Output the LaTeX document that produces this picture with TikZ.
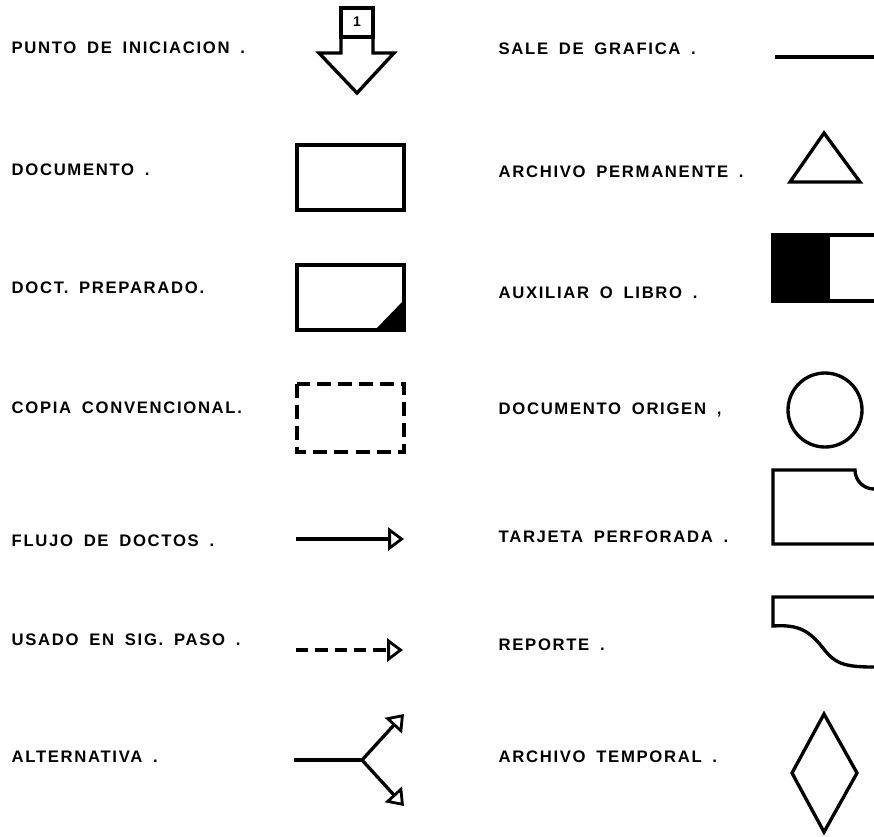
\documentclass[tikz,border=0pt]{standalone}
\usepackage{fontspec}
\usepackage{xcolor}
\usepackage{tikz}
\usetikzlibrary{arrows.meta}
\newfontfamily\lblfont[LetterSpace=10,WordSpace=1.7]{Liberation Sans}

\begin{document}
\begin{tikzpicture}[x=0.02cm,y=-0.02cm,line width=1.9pt,
  lbl/.style={anchor=west,inner sep=0pt,font=\lblfont\bfseries\fontsize{9.5}{11}\selectfont},
  arr/.style={-{Triangle[open,length=9pt,width=13pt,line width=1.6pt]}}]
  \useasboundingbox (0,0) rectangle (874,836);
  \clip (0,0) rectangle (874,836);
  % Left column labels
  \node[lbl] (lIni)  at (10,48)  {PUNTO DE INICIACION .};
  \node[lbl] (lDoc)  at (10,170) {DOCUMENTO .};
  \node[lbl] (lPrep) at (10,288) {DOCT. PREPARADO.};
  \node[lbl] (lCop)  at (10,408) {COPIA CONVENCIONAL.};
  \node[lbl] (lFlu)  at (10,541) {FLUJO DE DOCTOS .};
  \node[lbl] (lUsa)  at (10,640) {USADO EN SIG. PASO .};
  \node[lbl] (lAlt)  at (10,757) {ALTERNATIVA .};
  % Right column labels
  \node[lbl] (lSal)  at (497,49)  {SALE DE GRAFICA .};
  \node[lbl] (lPer)  at (497,172) {ARCHIVO PERMANENTE .};
  \node[lbl] (lAux)  at (497,293) {AUXILIAR O LIBRO .};
  \node[lbl] (lOri)  at (497,410) {DOCUMENTO ORIGEN ,};
  \node[lbl] (lTar)  at (497,537) {TARJETA PERFORADA .};
  \node[lbl] (lRep)  at (497,645) {REPORTE .};
  \node[lbl] (lTem)  at (497,757) {ARCHIVO TEMPORAL .};
  % Punto de iniciacion
  \draw (341,8) rectangle (373,37);
  \node[font=\lblfont\bfseries\fontsize{8}{9}\selectfont] (uno) at (357,22) {1};
  \draw[line join=miter] (341,37) -- (341,53) -- (319,53) -- (357,93)
    -- (394,53) -- (373,53) -- (373,37);
  % Documento
  \draw (297,145) rectangle (404,210);
  % Doct. preparado
  \draw (297,265) rectangle (404,330);
  \fill (375,330) -- (404,330) -- (404,300) -- cycle;
  % Copia convencional
  \draw[dash pattern=on 8pt off 4pt] (297,384) rectangle (404,452);
  % Flujo de doctos
  \coordinate (fluA) at (296,539);
  \coordinate (fluB) at (404,539);
  \draw[arr] (fluA) -- (fluB);
  % Usado en sig. paso
  \coordinate (usaA) at (296,650);
  \coordinate (usaB) at (403,650);
  \draw[arr,dash pattern=on 7pt off 4pt] (usaA) -- (usaB);
  % Alternativa
  \coordinate (altA) at (294,760);
  \coordinate (altM) at (362,760);
  \coordinate (altU) at (404,714);
  \coordinate (altD) at (404,806);
  \draw (altA) -- (altM);
  \draw[arr] (altM) -- (altU);
  \draw[arr] (altM) -- (altD);
  % Sale de grafica
  \draw (775,57) -- (874,57);
  % Archivo permanente
  \draw[line join=miter] (824,133) -- (790,182) -- (860,182) -- cycle;
  % Auxiliar o libro
  \fill (773,235) rectangle (830,301);
  \draw (773,235) rectangle (890,301);
  % Documento origen
  \draw (825,410) circle[radius=37];
  % Tarjeta perforada
  \draw (890,544) -- (773,544) -- (773,470) -- (855,470)
    arc[start angle=180,end angle=90,radius=19] -- (890,489);
  % Reporte
  \draw (890,597) -- (773,597) -- (773,626)
    .. controls (800,624) and (810,632) .. (823,648)
    .. controls (835,664) and (845,667) .. (874,667) -- (890,667);
  % Archivo temporal
  \draw (824,714) -- (857,773) -- (824,832) -- (792,773) -- cycle;
\end{tikzpicture}
\end{document}
